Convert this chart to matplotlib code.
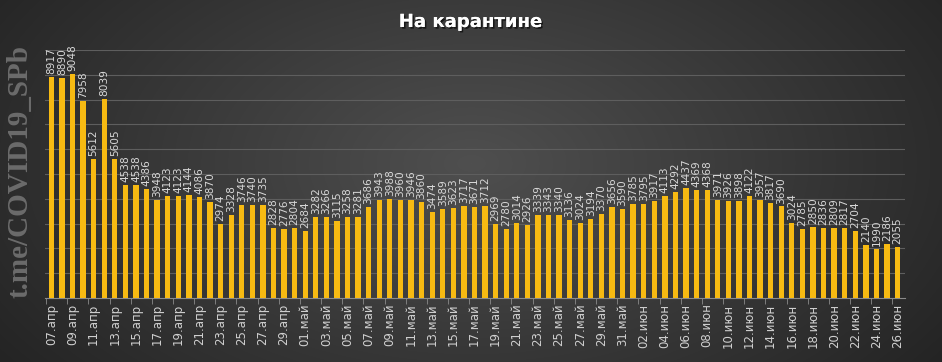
import numpy as np
import matplotlib
matplotlib.use("Agg")
import matplotlib.pyplot as plt
import matplotlib.patheffects as pe

# data: 07.апр .. 26.июн
months = ["апр"] * 24 + ["май"] * 31 + ["июн"] * 26
days = list(range(7, 31)) + list(range(1, 32)) + list(range(1, 27))
dates = ["%02d.%s" % (d, m) for d, m in zip(days, months)]

values = [8917, 8890, 9048, 7958, 5612, 8039, 5605, 4538, 4538, 4386,
          3948, 4123, 4123, 4144, 4086, 3870, 2974, 3328, 3746, 3740,
          3735, 2828, 2776, 2804, 2684, 3282, 3266, 3115, 3258, 3281,
          3686, 3943, 3988, 3960, 3946, 3860, 3474, 3589, 3623, 3717,
          3671, 3712, 2969, 2780, 3014, 2926, 3339, 3343, 3340, 3136,
          3024, 3194, 3370, 3656, 3590, 3785, 3795, 3917, 4113, 4292,
          4437, 4369, 4368, 3971, 3926, 3898, 4122, 3957, 3817, 3690,
          3024, 2785, 2850, 2836, 2809, 2817, 2704, 2140, 1990, 2186,
          2055]

title = "На карантине"
watermark = "t.me/COVID19_SPb"

W, H = 942, 362
fig = plt.figure(figsize=(W / 100, H / 100), dpi=100)

# radial gradient background
bg = fig.add_axes([0, 0, 1, 1])
yy, xx = np.mgrid[0:H, 0:W]
r = np.sqrt(((xx - W * 0.5) / (W * 0.62)) ** 2 + ((yy - H * 0.45) / (H * 0.95)) ** 2)
r = np.clip(r, 0, 1)
lev = 0.31 - 0.17 * r
bg.imshow(np.dstack([lev, lev, lev]), aspect="auto", extent=[0, 1, 0, 1])
bg.axis("off")

ax = fig.add_axes([45 / W, 64 / H, 860 / W, 248 / H])
ax.set_facecolor("none")
x = np.arange(len(values))
ax.bar(x, values, width=0.5, color="#F7BA12", zorder=3)

for xi, v in zip(x, values):
    ax.text(xi, v + 120, str(v), rotation=90, ha="center", va="bottom",
            fontsize=7.6, color="#d8d8d8", zorder=4)

ax.set_xlim(-0.6, len(values) - 0.3)
ax.set_ylim(0, 10000)
ax.set_yticks(np.arange(1000, 10001, 1000))
ax.yaxis.grid(True, color="#5e5e5e", linewidth=0.8, zorder=0)
ax.tick_params(axis="y", length=0, labelleft=False)

ax.set_xticks(x[::2])
ax.set_xticklabels(dates[::2], rotation=90, fontsize=8.5, color="#d0d0d0")
ax.set_xticks(np.arange(-0.5, len(values), 2), minor=True)
ax.tick_params(axis="x", which="major", length=0, pad=4)
ax.tick_params(axis="x", which="minor", length=4, color="#8a8a8a")

for s in ["top", "right", "left"]:
    ax.spines[s].set_visible(False)
ax.spines["bottom"].set_color("#8a8a8a")

fig.text(470 / W, 1 - 22 / H, title, ha="center", va="center",
         fontsize=13, fontweight="bold", color="white",
         path_effects=[pe.withSimplePatchShadow(offset=(1.2, -1.2), shadow_rgbFace="black", alpha=0.6), pe.Normal()])

fig.text(20 / W, 1 - 172 / H, watermark, rotation=90, ha="center", va="center",
         fontsize=21, fontweight="bold", family="Liberation Serif", color="#6b6b6b")

fig.savefig("out.png", dpi=100)
